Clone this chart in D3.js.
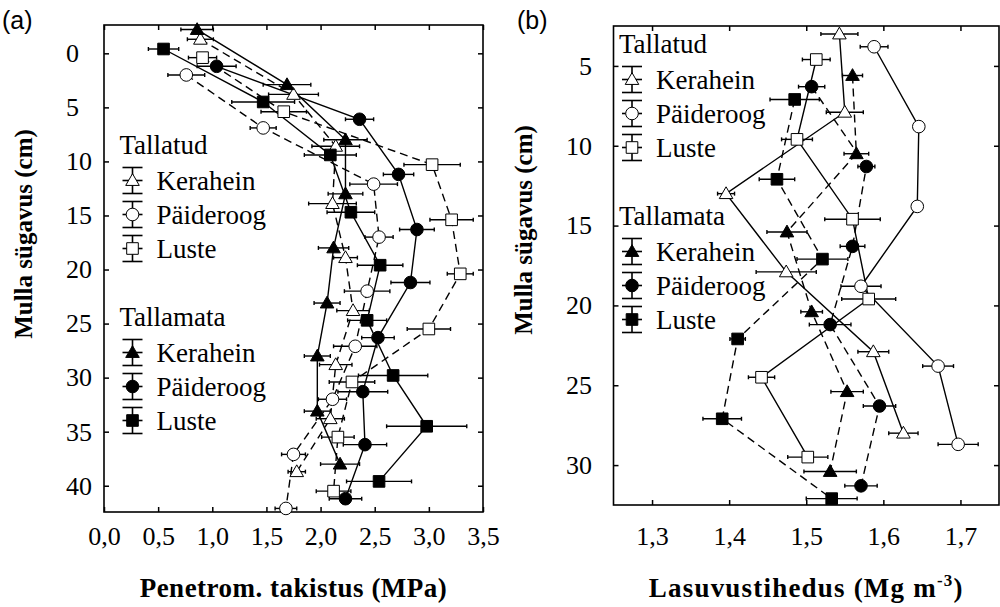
<!DOCTYPE html>
<html>
<head>
<meta charset="utf-8">
<script src="https://cdn.jsdelivr.net/npm/d3@7"></script>
<style>
body { margin: 0; background: #fff; }
svg text { font-family: "Liberation Serif", "Times New Roman", serif; fill: #000; }
svg text.letter { font-family: "Liberation Sans", Arial, sans-serif; }
</style>
</head>
<body>
<svg id="chart" width="1000" height="607"></svg>
<script>
// ---- data: panel (a), penetrometer resistance (MPa) vs depth (cm) ----
var aTickX = [0, 0.5, 1, 1.5, 2, 2.5, 3, 3.5];
var aTickY = [0, 5, 10, 15, 20, 25, 30, 35, 40];

var aTallatudKeraheinDepth = [-1.3, 3.8, 8.6, 13.9, 18.9, 23.8, 28.8, 33.8, 38.7];
var aTallatudKeraheinValue = [0.89, 1.75, 2.14, 2.11, 2.23, 2.30, 2.14, 2.09, 1.78];
var aTallatudKeraheinErr = [0.12, 0.23, 0.22, 0.22, 0.11, 0.15, 0.15, 0.13, 0.08];

var aTallatudPaideroogDepth = [2.0, 6.9, 12.1, 17.0, 22.0, 27.1, 32.0, 37.1, 42.1];
var aTallatudPaideroogValue = [0.76, 1.47, 2.49, 2.54, 2.43, 2.32, 2.11, 1.75, 1.68];
var aTallatudPaideroogErr = [0.17, 0.12, 0.22, 0.13, 0.21, 0.20, 0.13, 0.11, 0.10];

var aTallatudLusteDepth = [0.4, 5.4, 10.3, 15.4, 20.4, 25.5, 30.4, 35.5, 40.5];
var aTallatudLusteValue = [0.91, 1.66, 3.03, 3.21, 3.29, 3.00, 2.29, 2.16, 2.12];
var aTallatudLusteErr = [0.13, 0.21, 0.26, 0.20, 0.12, 0.20, 0.21, 0.15, 0.16];

var aTallamataKeraheinDepth = [-2.2, 2.9, 8.0, 13.0, 18.0, 23.1, 28.0, 33.1, 38.0];
var aTallamataKeraheinValue = [0.86, 1.69, 2.23, 2.23, 2.12, 2.06, 1.97, 1.97, 2.18];
var aTallamataKeraheinErr = [0.15, 0.22, 0.20, 0.16, 0.14, 0.12, 0.12, 0.12, 0.18];

var aTallamataPaideroogDepth = [1.2, 6.1, 11.2, 16.3, 21.2, 26.3, 31.3, 36.2, 41.2];
var aTallamataPaideroogValue = [1.04, 2.36, 2.72, 2.89, 2.83, 2.53, 2.39, 2.41, 2.23];
var aTallamataPaideroogErr = [0.18, 0.13, 0.14, 0.16, 0.18, 0.15, 0.23, 0.20, 0.15];

var aTallamataLusteDepth = [-0.4, 4.5, 9.4, 14.7, 19.6, 24.7, 29.8, 34.5, 39.6];
var aTallamataLusteValue = [0.55, 1.47, 2.09, 2.28, 2.55, 2.43, 2.67, 2.98, 2.54];
var aTallamataLusteErr = [0.14, 0.29, 0.24, 0.22, 0.21, 0.18, 0.32, 0.37, 0.30];

// ---- data: panel (b), bulk density (Mg m-3) vs depth (cm) ----
var bTickX = [1.3, 1.4, 1.5, 1.6, 1.7];
var bTickY = [5, 10, 15, 20, 25, 30];

var bTallatudKeraheinDepth = [3.0, 7.9, 13.0, 17.9, 22.9, 28.0];
var bTallatudKeraheinValue = [1.543, 1.550, 1.396, 1.474, 1.587, 1.626];
var bTallatudKeraheinErr = [0.024, 0.024, 0.011, 0.039, 0.020, 0.019];

var bTallatudPaideroogDepth = [3.8, 8.8, 13.8, 18.8, 23.8, 28.7];
var bTallatudPaideroogValue = [1.588, 1.646, 1.644, 1.571, 1.671, 1.697];
var bTallatudPaideroogErr = [0.018, 0.006, 0.006, 0.026, 0.020, 0.026];

var bTallatudLusteDepth = [4.6, 9.6, 14.6, 19.6, 24.5, 29.5];
var bTallatudLusteValue = [1.513, 1.488, 1.560, 1.581, 1.442, 1.502];
var bTallatudLusteErr = [0.018, 0.020, 0.036, 0.035, 0.017, 0.026];

var bTallamataKeraheinDepth = [5.6, 10.5, 15.4, 20.4, 25.4, 30.4];
var bTallamataKeraheinValue = [1.560, 1.565, 1.475, 1.507, 1.553, 1.531];
var bTallamataKeraheinErr = [0.013, 0.016, 0.026, 0.014, 0.021, 0.034];

var bTallamataPaideroogDepth = [6.3, 11.3, 16.3, 21.2, 26.3, 31.3];
var bTallamataPaideroogValue = [1.507, 1.578, 1.560, 1.531, 1.595, 1.571];
var bTallamataPaideroogErr = [0.017, 0.011, 0.016, 0.027, 0.021, 0.021];

var bTallamataLusteDepth = [7.1, 12.1, 17.1, 22.1, 27.1, 32.1];
var bTallamataLusteValue = [1.485, 1.462, 1.521, 1.411, 1.391, 1.533];
var bTallamataLusteErr = [0.032, 0.023, 0.033, 0.010, 0.025, 0.033];

var groupNames = ["Tallatud", "Tallamata"];
var plantNames = ["Kerahein", "Päideroog", "Luste"];

// comma decimal like the original
var commaFmt = d3.formatLocale({decimal: ",", thousands: " ", grouping: [3], currency: ["", ""]}).format(".1f");

var svg = d3.select("#chart");

//turn parallel arrays into point objects
function pts(depth, value, err) {
	return depth.map(function(d, i) {
		return {d: d, v: value[i], e: err[i]};
	});
}

//marker shapes
var shapes = {tri: d3.symbolTriangle, circ: d3.symbolCircle, sq: d3.symbolSquare};
var shapeSize = {tri: 80, circ: 125, sq: 135};

function drawMarker(g, x, y, shape, filled) {
	g.append("path")
		.attr("d", d3.symbol().type(shapes[shape]).size(shapeSize[shape])())
		.attr("transform", "translate(" + x + "," + (shape === "tri" ? y + 1 : y) + ")")
		.attr("fill", filled ? "#000" : "#fff")
		.attr("stroke", "#000")
		.attr("stroke-width", 1);
}

function drawPanel(p) {
	var x = d3.scaleLinear().domain(p.xDomain).range(p.xRange);
	var y = d3.scaleLinear().domain(p.yDomain).range(p.yRange);
	var g = svg.append("g");

	var left = p.xRange[0], right = p.xRange[1], top = p.yRange[0], bottom = p.yRange[1];

	//axes, ticks pointing inwards on all four sides
	var xb = g.append("g").attr("transform", "translate(0," + bottom + ")")
		.call(d3.axisBottom(x).tickValues(p.tickX).tickSize(-5).tickPadding(p.xPad).tickFormat(commaFmt));
	g.append("g").attr("transform", "translate(0," + top + ")")
		.call(d3.axisTop(x).tickValues(p.tickX).tickSize(-5).tickFormat(""));
	var yl = g.append("g").attr("transform", "translate(" + left + ",0)")
		.call(d3.axisLeft(y).tickValues(p.tickY).tickSize(-5).tickFormat(d3.format("d")));
	g.append("g").attr("transform", "translate(" + right + ",0)")
		.call(d3.axisRight(y).tickValues(p.tickY).tickSize(-5).tickFormat(""));

	g.selectAll(".domain").remove();
	g.selectAll(".tick line").attr("stroke", "#000").attr("stroke-width", 1.5);
	xb.selectAll("text").attr("font-size", 26).attr("font-family", "Liberation Serif");
	yl.selectAll("text")
		.attr("font-size", 26)
		.attr("font-family", "Liberation Serif")
		.attr("text-anchor", p.yAnchor)
		.attr("x", p.yLabelX - left);

	//frame
	g.append("rect")
		.attr("x", left).attr("y", top)
		.attr("width", right - left).attr("height", bottom - top)
		.attr("fill", "none").attr("stroke", "#000").attr("stroke-width", 1.6);

	var line = d3.line().x(function(d) { return x(d.v); }).y(function(d) { return y(d.d); });

	//connecting lines
	p.series.forEach(function(s) {
		g.append("path")
			.datum(s.data)
			.attr("d", line)
			.attr("fill", "none")
			.attr("stroke", "#000")
			.attr("stroke-width", 1.4)
			.attr("stroke-dasharray", s.dashed ? "8,5" : null);
	});

	//error bars + markers
	p.series.forEach(function(s) {
		s.data.forEach(function(d) {
			var yy = y(d.d), x0 = x(d.v - d.e), x1 = x(d.v + d.e);
			g.append("line").attr("x1", x0).attr("x2", x1).attr("y1", yy).attr("y2", yy)
				.attr("stroke", "#000").attr("stroke-width", 1.4);
			[x0, x1].forEach(function(xc) {
				g.append("line").attr("x1", xc).attr("x2", xc).attr("y1", yy - 2).attr("y2", yy + 2)
					.attr("stroke", "#000").attr("stroke-width", 1.4);
			});
		});
	});
	p.series.forEach(function(s) {
		s.data.forEach(function(d) {
			drawMarker(g, x(d.v), y(d.d), s.shape, s.filled);
		});
	});

	//legend
	p.legend.forEach(function(lg, gi) {
		g.append("text").attr("x", p.legX - 13).attr("y", lg.y)
			.attr("font-size", 27).text(groupNames[gi]);
		var group = p.series.filter(function(s) { return s.group === gi; });
		group.forEach(function(s, i) {
			var base = lg.y + 35.5 + i * 34;
			var cy = base - 9;
			var cx = p.legX;
			var sym = g.append("g");
			sym.append("line").attr("x1", cx).attr("x2", cx).attr("y1", cy - 13).attr("y2", cy + 13);
			sym.append("line").attr("x1", cx - 10).attr("x2", cx + 10).attr("y1", cy - 13).attr("y2", cy - 13);
			sym.append("line").attr("x1", cx - 10).attr("x2", cx + 10).attr("y1", cy + 13).attr("y2", cy + 13);
			sym.append("line").attr("x1", cx - 10).attr("x2", cx + 10).attr("y1", cy).attr("y2", cy);
			sym.selectAll("line").attr("stroke", "#000").attr("stroke-width", 1.6);
			drawMarker(sym, cx, cy, s.shape, s.filled);
			g.append("text").attr("x", p.legX + 24).attr("y", base)
				.attr("font-size", 27).text(plantNames[i]);
		});
	});

	//axis titles
	var xt = g.append("text")
		.attr("x", (left + right) / 2).attr("y", 597)
		.attr("text-anchor", "middle")
		.attr("font-size", 27).attr("font-weight", "bold")
		.attr("letter-spacing", p.xTitleSpacing);
	p.xTitle(xt);

	g.append("text")
		.attr("transform", "translate(" + p.yTitleX + "," + p.yTitleY + ")rotate(-90)")
		.attr("text-anchor", "middle")
		.attr("font-size", 25).attr("font-weight", "bold")
		.text("Mulla sügavus (cm)");

	//panel letter (sans serif in the original)
	g.append("text").attr("class", "letter")
		.attr("x", p.letterX).attr("y", 29)
		.attr("font-size", 25).text(p.letter);
}

// panel (a): open symbols dashed, filled symbols solid
drawPanel({
	letter: "(a)", letterX: 2,
	xDomain: [0, 3.5], xRange: [104, 483],
	yDomain: [-2.62, 42.43], yRange: [25, 512],
	tickX: aTickX, tickY: aTickY, xPad: 15, yLabelX: 66, yAnchor: "start",
	yTitleX: 32, yTitleY: 234,
	legX: 132.5,
	legend: [{y: 154}, {y: 326}],
	xTitleSpacing: 0.5,
	xTitle: function(t) { t.text("Penetrom. takistus (MPa)"); },
	series: [
		{group: 0, shape: "tri", filled: false, dashed: true, data: pts(aTallatudKeraheinDepth, aTallatudKeraheinValue, aTallatudKeraheinErr)},
		{group: 0, shape: "circ", filled: false, dashed: true, data: pts(aTallatudPaideroogDepth, aTallatudPaideroogValue, aTallatudPaideroogErr)},
		{group: 0, shape: "sq", filled: false, dashed: true, data: pts(aTallatudLusteDepth, aTallatudLusteValue, aTallatudLusteErr)},
		{group: 1, shape: "tri", filled: true, dashed: false, data: pts(aTallamataKeraheinDepth, aTallamataKeraheinValue, aTallamataKeraheinErr)},
		{group: 1, shape: "circ", filled: true, dashed: false, data: pts(aTallamataPaideroogDepth, aTallamataPaideroogValue, aTallamataPaideroogErr)},
		{group: 1, shape: "sq", filled: true, dashed: false, data: pts(aTallamataLusteDepth, aTallamataLusteValue, aTallamataLusteErr)}
	]
});

// panel (b): open symbols solid, filled symbols dashed
drawPanel({
	letter: "(b)", letterX: 517,
	xDomain: [1.25, 1.75], xRange: [613.5, 999],
	yDomain: [2.5, 32.5], yRange: [26, 505],
	tickX: bTickX, tickY: bTickY, xPad: 22, yLabelX: 592, yAnchor: "end",
	yTitleX: 532, yTitleY: 230,
	legX: 632,
	legend: [{y: 53}, {y: 225}],
	xTitleSpacing: 1.2,
	xTitle: function(t) {
		t.append("tspan").text("Lasuvustihedus (Mg m");
		t.append("tspan").attr("dy", -11).attr("font-size", 17).text("-3");
		t.append("tspan").attr("dy", 11).text(")");
	},
	series: [
		{group: 0, shape: "tri", filled: false, dashed: false, data: pts(bTallatudKeraheinDepth, bTallatudKeraheinValue, bTallatudKeraheinErr)},
		{group: 0, shape: "circ", filled: false, dashed: false, data: pts(bTallatudPaideroogDepth, bTallatudPaideroogValue, bTallatudPaideroogErr)},
		{group: 0, shape: "sq", filled: false, dashed: false, data: pts(bTallatudLusteDepth, bTallatudLusteValue, bTallatudLusteErr)},
		{group: 1, shape: "tri", filled: true, dashed: true, data: pts(bTallamataKeraheinDepth, bTallamataKeraheinValue, bTallamataKeraheinErr)},
		{group: 1, shape: "circ", filled: true, dashed: true, data: pts(bTallamataPaideroogDepth, bTallamataPaideroogValue, bTallamataPaideroogErr)},
		{group: 1, shape: "sq", filled: true, dashed: true, data: pts(bTallamataLusteDepth, bTallamataLusteValue, bTallamataLusteErr)}
	]
});
</script>
</body>
</html>
